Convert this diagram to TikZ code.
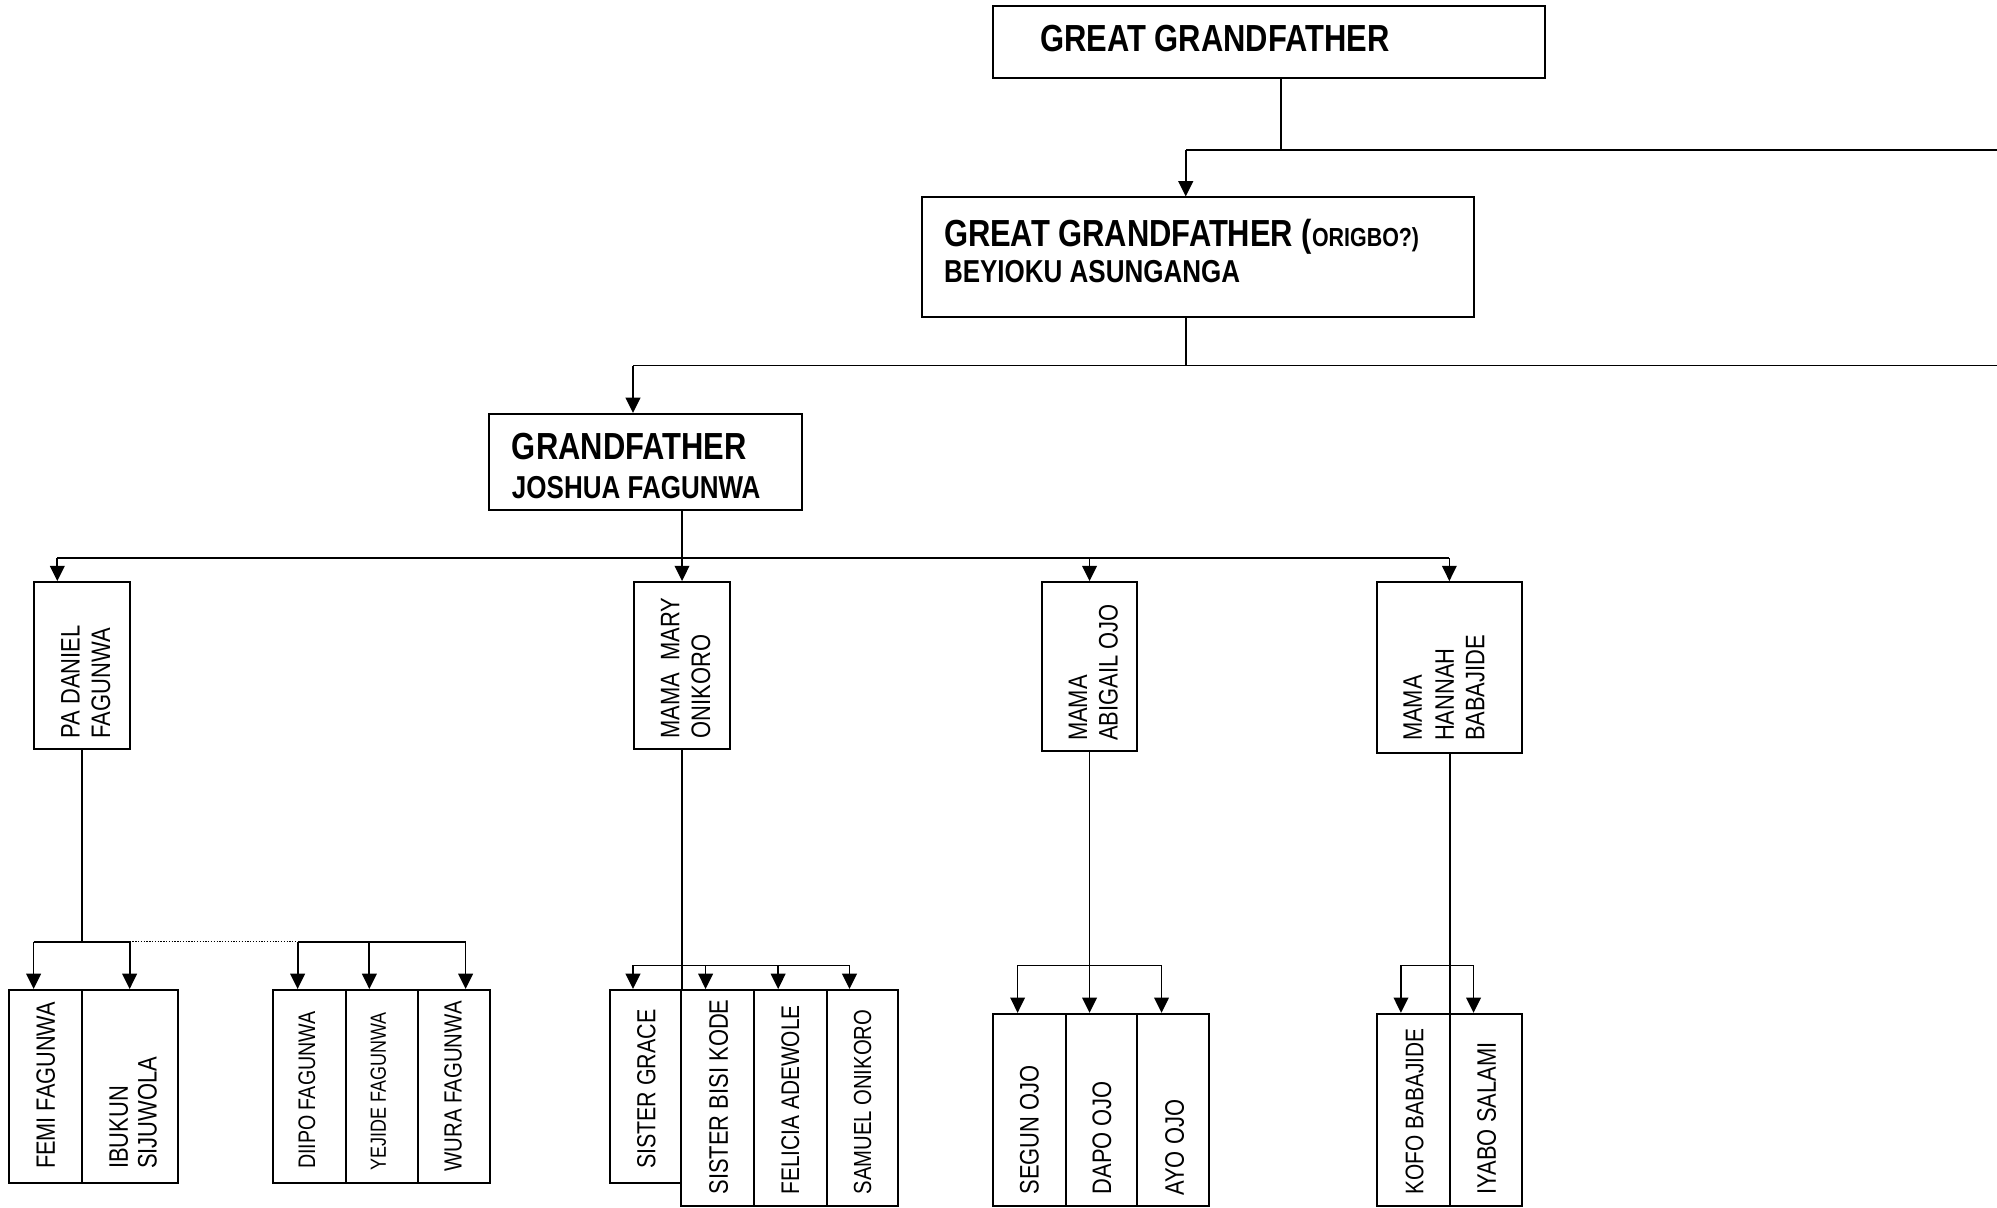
\documentclass[tikz,border=0pt]{standalone}
\usepackage{fontspec}
\setmainfont{Liberation Sans}[FakeStretch=0.82]
\usetikzlibrary{arrows.meta}
\begin{document}
\begin{tikzpicture}[x=1pt,y=-1pt,
  box/.style={draw, line width=1.5pt, rectangle, inner sep=0pt},
  line/.style={line width=1.35pt},
  arr/.style={line width=1.35pt, -{Triangle[length=12pt,width=11.5pt]}},
  dots/.style={line width=0.9pt, dash pattern=on 1pt off 1.2pt},
  bt/.style={anchor=base west, inner sep=0pt, font=\fontsize{29.6}{35}\selectfont\bfseries},
  bs/.style={anchor=base west, inner sep=0pt, font=\fontsize{24.9}{30}\selectfont\bfseries},
  vt/.style={rotate=90, anchor=base west, inner sep=0pt, font=\fontsize{21}{24}\selectfont},
]
\useasboundingbox (0,0) rectangle (1568,948);

% boxes
\node[box, minimum width=433pt, minimum height=57pt] (gg) at (996.5,33) {};
\node[box, minimum width=433pt, minimum height=94pt] (gg2) at (940.5,202) {};
\node[box, minimum width=245.3pt, minimum height=75.4pt] (gf) at (506.85,362.7) {};
\node[box, minimum width=75pt, minimum height=131pt] (pa) at (64.5,522.5) {};
\node[box, minimum width=75pt, minimum height=131pt] (mary) at (535.5,522.5) {};
\node[box, minimum width=75pt, minimum height=133pt] (abigail) at (855.5,523.5) {};
\node[box, minimum width=113.9pt, minimum height=134pt] (hannah) at (1138.35,524) {};

\node[box, minimum width=57.3pt, minimum height=151.3pt] (femi) at (35.75,852.95) {};
\node[box, minimum width=75.1pt, minimum height=151.3pt] (ibukun) at (101.95,852.95) {};
\node[box, minimum width=57.1pt, minimum height=151.3pt] (diipo) at (243.15,852.95) {};
\node[box, minimum width=56.3pt, minimum height=151.3pt] (yejide) at (299.85,852.95) {};
\node[box, minimum width=56.7pt, minimum height=151.3pt] (wura) at (356.35,852.95) {};

\node[box, minimum width=56.4pt, minimum height=151.3pt] (grace) at (506.8,852.95) {};
\node[box, minimum width=57pt, minimum height=169.7pt] (bisi) at (563.5,862.15) {};
\node[box, minimum width=57pt, minimum height=169.7pt] (felicia) at (620.5,862.15) {};
\node[box, minimum width=56pt, minimum height=169.7pt] (samuel) at (677,862.15) {};

\node[box, minimum width=57pt, minimum height=151pt] (segun) at (808.5,871.5) {};
\node[box, minimum width=56pt, minimum height=151pt] (dapo) at (865,871.5) {};
\node[box, minimum width=56pt, minimum height=151pt] (ayo) at (921,871.5) {};

\node[box, minimum width=57pt, minimum height=151pt] (kofo) at (1109.9,871.5) {};
\node[box, minimum width=56.9pt, minimum height=151pt] (iyabo) at (1166.85,871.5) {};

% texts
\node[bt] (tgg) at (816.6,40.6) {GREAT GRANDFATHER};
\node[bt] (tgg2a) at (741,193.5) {GREAT GRANDFATHER ({\fontsize{20.5}{22}\selectfont ORIGBO?)}};
\node[bs] (tgg2b) at (741,222) {BEYIOKU ASUNGANGA};
\node[bt] (tgf1) at (401.8,361) {GRANDFATHER};
\node[bs] (tgf2) at (401.8,391.3) {JOSHUA FAGUNWA};

\node[vt] (tpa1) at (62.5,580) {PA DANIEL};
\node[vt] (tpa2) at (86.5,580) {FAGUNWA};
\node[vt] (tma1) at (533.5,580) {MAMA\ \ MARY};
\node[vt] (tma2) at (557.5,580) {ONIKORO};
\node[vt] (tab1) at (853.5,582) {MAMA};
\node[vt] (tab2) at (877.5,582) {ABIGAIL OJO};
\node[vt] (tha1) at (1116.5,582) {MAMA};
\node[vt] (tha2) at (1141.5,582) {HANNAH};
\node[vt] (tha3) at (1165.5,582) {BABAJIDE};

\node[vt, font=\fontsize{20.8}{24}\selectfont] (tfe) at (43,918) {FEMI FAGUNWA};
\node[vt] (tib1) at (100.5,918) {IBUKUN};
\node[vt] (tib2) at (123,918) {SIJUWOLA};
\node[vt, font=\fontsize{18.8}{22}\selectfont] (tdi) at (247.5,918) {DIIPO FAGUNWA};
\node[vt, font=\fontsize{17.2}{20}\selectfont] (tye) at (303,919) {YEJIDE FAGUNWA};
\node[vt, font=\fontsize{19.5}{22}\selectfont] (twu) at (362.5,920) {WURA FAGUNWA};

\node[vt, font=\fontsize{20.5}{24}\selectfont] (tgr) at (514.5,918) {SISTER GRACE};
\node[vt] (tbi) at (571.5,938) {SISTER BISI KODE};
\node[vt, font=\fontsize{20}{22}\selectfont] (tfl) at (627.5,938) {FELICIA ADEWOLE};
\node[vt, font=\fontsize{19.4}{22}\selectfont] (tsa) at (684,938) {SAMUEL ONIKORO};

\node[vt] (tse) at (815.5,938) {SEGUN OJO};
\node[vt] (tda) at (872.5,938) {DAPO OJO};
\node[vt] (tay) at (929.5,939) {AYO OJO};
\node[vt, font=\fontsize{20}{22}\selectfont] (tko) at (1117.5,938) {KOFO BABAJIDE};
\node[vt] (tiy) at (1174.5,938) {IYABO SALAMI};

% top connectors
\coordinate (j1) at (1006,118);
\coordinate (a1) at (931,118);
\coordinate (e1) at (1568,118);
\draw[line] (gg.south -| j1) -- (j1);
\draw[line] (e1) -- (a1);
\draw[arr] (a1) -- (a1 |- gg2.north);

\coordinate (a2) at (497,287);
\coordinate (e2) at (1568,287);
\draw[line] (gg2.south -| a1) -- (a1 |- e2);
\draw[line] (e2) -- (a2);
\draw[arr] (a2) -- (a2 |- gf.north);

\coordinate (k1) at (45,438);
\coordinate (k4) at (1138,438);
\draw[arr] (gf.south -| mary.north) -- (mary.north);
\draw[line] (k1) -- (k4);
\draw[arr] (k1) -- (k1 |- pa.north);
\draw[arr] (abigail.north |- k1) -- (abigail.north);
\draw[arr] (k4) -- (k4 |- hannah.north);

% Pa Daniel's children
\coordinate (pj) at (64.5,739.5);
\coordinate (fa) at (26.4,739.5);
\coordinate (ia) at (101.8,739.5);
\coordinate (da) at (233.7,739.5);
\coordinate (ya) at (290,739.5);
\coordinate (wa) at (365.6,739.5);
\draw[line] (pa.south) -- (pj);
\draw[line] (fa) -- (ia);
\draw[arr] (fa) -- (fa |- femi.north);
\draw[arr] (ia) -- (ia |- ibukun.north);
\draw[dots] (ia) -- (da);
\draw[line] (da) -- (wa);
\draw[arr] (da) -- (da |- diipo.north);
\draw[arr] (ya) -- (ya |- yejide.north);
\draw[arr] (wa) -- (wa |- wura.north);

% Mama Mary's children
\coordinate (m1) at (497,758);
\coordinate (m2) at (554,758);
\coordinate (m3) at (611,758);
\coordinate (m4) at (667,758);
\draw[line] (mary.south) -- (mary.south |- grace.north);
\draw[line] (m1) -- (m4);
\draw[arr] (m1) -- (m1 |- grace.north);
\draw[arr] (m2) -- (m2 |- bisi.north);
\draw[arr] (m3) -- (m3 |- felicia.north);
\draw[arr] (m4) -- (m4 |- samuel.north);

% Mama Abigail's children
\coordinate (o1) at (799,758);
\coordinate (o3) at (912,758);
\draw[arr] (abigail.south) -- (abigail.south |- dapo.north);
\draw[line] (o1) -- (o3);
\draw[arr] (o1) -- (o1 |- segun.north);
\draw[arr] (o3) -- (o3 |- ayo.north);

% Mama Hannah's children
\coordinate (b1) at (1100,758);
\coordinate (b2) at (1157,758);
\draw[line] (hannah.south) -- (hannah.south |- kofo.north);
\draw[line] (b1) -- (b2);
\draw[arr] (b1) -- (b1 |- kofo.north);
\draw[arr] (b2) -- (b2 |- iyabo.north);
\end{tikzpicture}
\end{document}
